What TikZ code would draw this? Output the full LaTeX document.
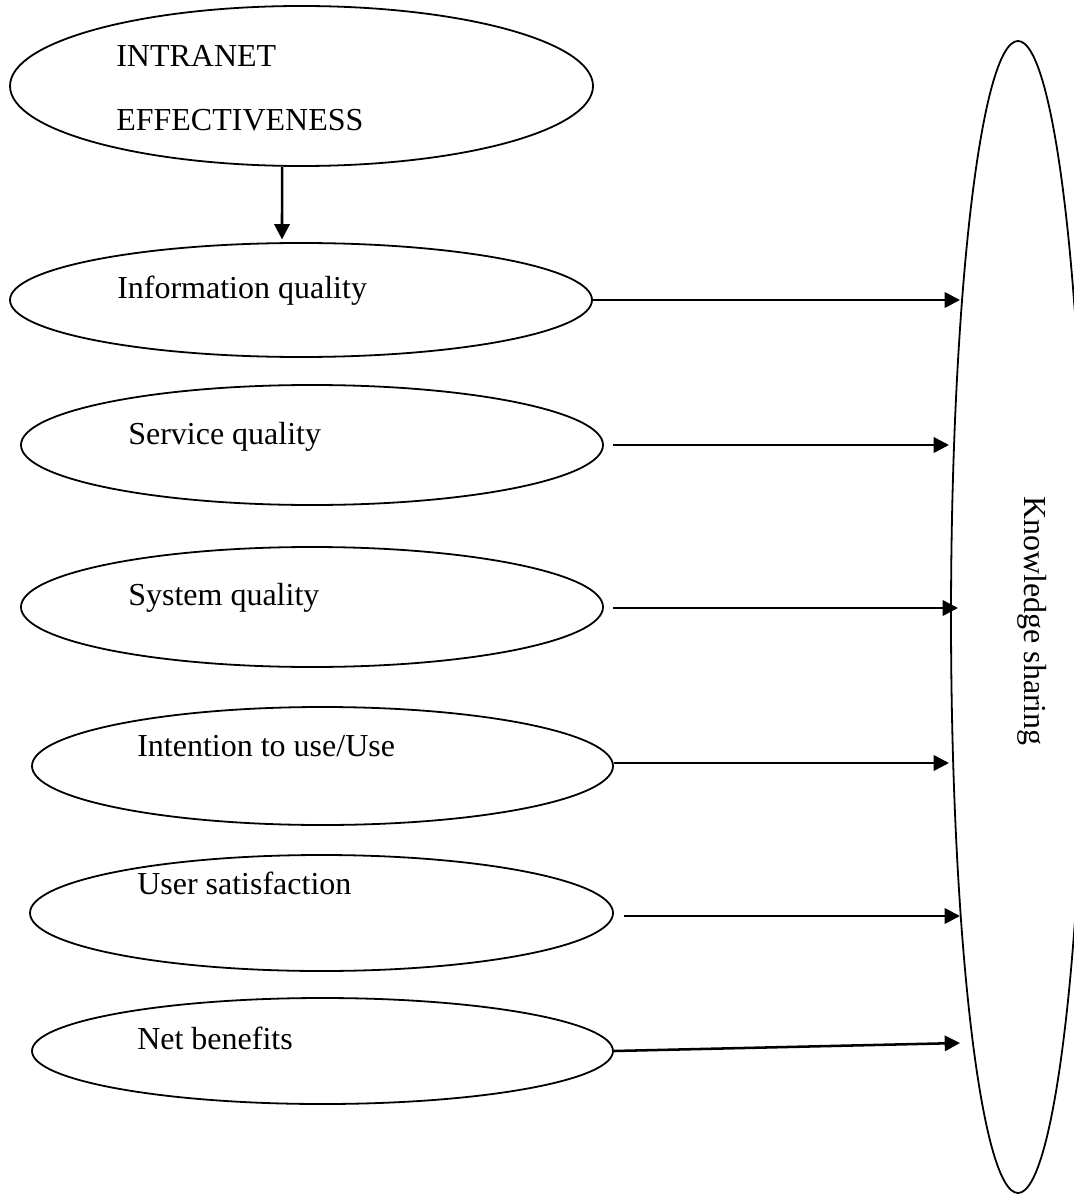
\documentclass[tikz,border=0pt]{standalone}
\usepackage{fontspec}
\setmainfont{Liberation Serif}
\usetikzlibrary{shapes.geometric,arrows.meta}

\begin{document}
\begin{tikzpicture}[
  x=0.75pt, y=-0.75pt,
  oval/.style={draw, ellipse, inner sep=0pt, line width=1.35pt},
  lbl/.style={anchor=base west, inner sep=0pt, font=\fontsize{24}{28}\selectfont},
  conn/.style={line width=1.9pt, -{Triangle[length=11.5pt, width=11.5pt]}}
]
\useasboundingbox (0,0) rectangle (1073,1194);

% outcome construct on the right
\node[oval, minimum width=134*0.75pt, minimum height=1152*0.75pt] (ks) at (1018,617) {};
\node[anchor=base, inner sep=0pt, rotate=-90, font=\fontsize{24}{28}\selectfont] (kstxt) at (1024,621) {Knowledge sharing};

% intranet effectiveness and its dimensions
\node[oval, minimum width=583*0.75pt, minimum height=160*0.75pt] (ie) at (301.5,86) {};
\node[oval, minimum width=582*0.75pt, minimum height=114*0.75pt] (info) at (301,300) {};
\node[oval, minimum width=582*0.75pt, minimum height=120*0.75pt] (svc) at (312,445) {};
\node[oval, minimum width=582*0.75pt, minimum height=120*0.75pt] (sys) at (312,607) {};
\node[oval, minimum width=581*0.75pt, minimum height=118*0.75pt] (use) at (322.5,766) {};
\node[oval, minimum width=583*0.75pt, minimum height=116*0.75pt] (usr) at (321.5,913) {};
\node[oval, minimum width=581*0.75pt, minimum height=106*0.75pt] (net) at (322.5,1051) {};

% labels, left aligned inside the ovals
\node[lbl] (t1a) at (116,67) {INTRANET};
\node[lbl] (t1b) at (116,131) {EFFECTIVENESS};
\node[lbl] (t2) at (117,299) {Information quality};
\node[lbl] (t3) at (128,444) {Service quality};
\node[lbl] (t4) at (128,605) {System quality};
\node[lbl] (t5) at (137,756) {Intention to use/Use};
\node[lbl] (t6) at (137,894) {User satisfaction};
\node[lbl] (t7) at (137,1049) {Net benefits};

% arrow heads meet the tall oval here
\coordinate (e1) at (960,300);
\coordinate (e2) at (949,445);
\coordinate (e3) at (958,608);
\coordinate (e4) at (949,763);
\coordinate (e5) at (960,916);
\coordinate (e6) at (960,1043);

% connectors
\draw[conn] ([xshift=-14.6pt]ie.south) -- ([xshift=-14.25pt, yshift=2pt]info.north);
\draw[conn] (info.east) -- (e1);
\draw[conn] ([xshift=6.75pt]svc.east) -- (e2);
\draw[conn] ([xshift=6.75pt, yshift=-0.75pt]sys.east) -- (e3);
\draw[conn] ([yshift=2.25pt]use.east) -- (e4);
\draw[conn] ([xshift=7.5pt, yshift=-2.25pt]usr.east) -- (e5);
\draw[conn] (net.east) -- (e6);
\end{tikzpicture}
\end{document}
